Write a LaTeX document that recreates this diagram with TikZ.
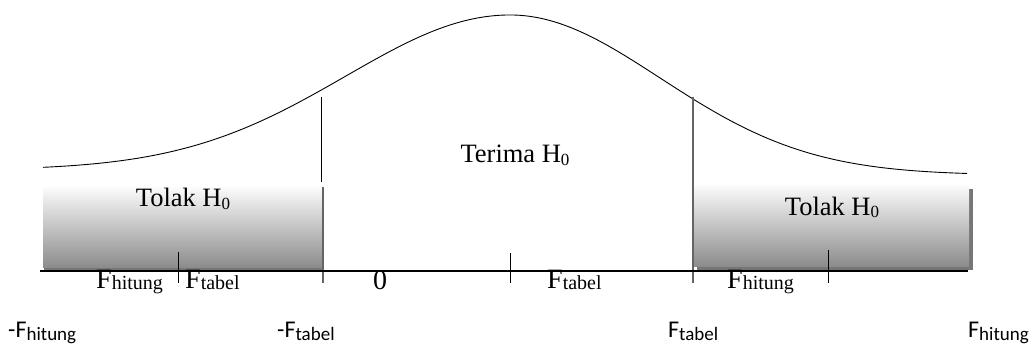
\documentclass[tikz,border=0pt]{standalone}
\usepackage{fontspec}
\setmainfont{Liberation Serif}
\newfontfamily\sansf{Carlito}
\definecolor{shtop}{RGB}{250,250,250}
\definecolor{shbot}{RGB}{140,140,140}
\definecolor{shadowc}{RGB}{118,118,118}
\definecolor{edgec}{RGB}{100,100,100}
\newcommand\serlab[2]{{\fontsize{28}{28}\selectfont #1}\raisebox{-1.5pt}{\fontsize{20}{20}\selectfont #2}}
\newcommand\sanlab[2]{{\sansf\fontsize{24}{24}\selectfont #1\raisebox{-3pt}{\fontsize{19}{19}\selectfont #2}}}
\newcommand\hzero[1]{{\fontsize{26.5}{26.5}\selectfont #1H\raisebox{-2.5pt}{\fontsize{17}{17}\selectfont 0}}}
\begin{document}
\begin{tikzpicture}[x=1pt,y=-1pt,
  lbl/.style={anchor=base west, inner sep=0pt},
  ctr/.style={anchor=base, inner sep=0pt},
  curve/.style={line width=0.9pt},
  tick/.style={line width=0.9pt},
  edge/.style={draw=edgec, line width=1.2pt}]
\useasboundingbox (0,0) rectangle (1032,347);
\fill[white] (0,0) rectangle (1032,347);
% rejection regions
\fill[shadowc] (44,191) rectangle (324,270);
\shade[top color=shtop,bottom color=shbot] (43,188) rectangle (322,267);
\fill[shadowc] (697,189) rectangle (973,270);
\shade[top color=shtop,bottom color=shbot] (694,186) rectangle (969,266);
% curve
\draw[curve] plot[domain=43:510, samples=120] (\x, {15+155*(1-exp(-0.5*((\x-510)/164)*((\x-510)/164)))});
\draw[curve] plot[domain=510:967, samples=120] (\x, {15+160*(1-exp(-0.5*((\x-510)/150)*((\x-510)/150)))});
% vertical lines
\draw[tick] (321,97) -- (321,182);
\draw[edge] (323,187) -- (323,283);
\draw[edge] (693,97) -- (693,283);
% axis
\draw[line width=1.2pt] (40,271) -- (968,271);
\draw[tick] (178,252) -- (178,283);
\draw[tick] (510,253) -- (510,283);
\draw[tick] (828,250) -- (828,283);
% region labels
\node[ctr] (tl) at (183,207) {\hzero{Tolak }};
\node[ctr] (tr) at (832,215) {\hzero{Tolak }};
\node[ctr] (te) at (515,163) {\hzero{Terima }};
% axis labels
\node[lbl] (fh1) at (96,288) {\serlab{F}{hitung}};
\node[lbl] (ft1) at (185,288) {\serlab{F}{tabel}};
\node[ctr] (zero) at (380,289) {\fontsize{28}{28}\selectfont 0};
\node[lbl] (ft2) at (547,288) {\serlab{F}{tabel}};
\node[lbl] (fh2) at (727,288) {\serlab{F}{hitung}};
\node[lbl] (s1) at (8,337) {\sanlab{-F}{hitung}};
\node[lbl] (s2) at (277,337) {\sanlab{-F}{tabel}};
\node[lbl] (s3) at (668,337) {\sanlab{F}{tabel}};
\node[lbl] (s4) at (968,337) {\sanlab{F}{hitung}};
\end{tikzpicture}
\end{document}
